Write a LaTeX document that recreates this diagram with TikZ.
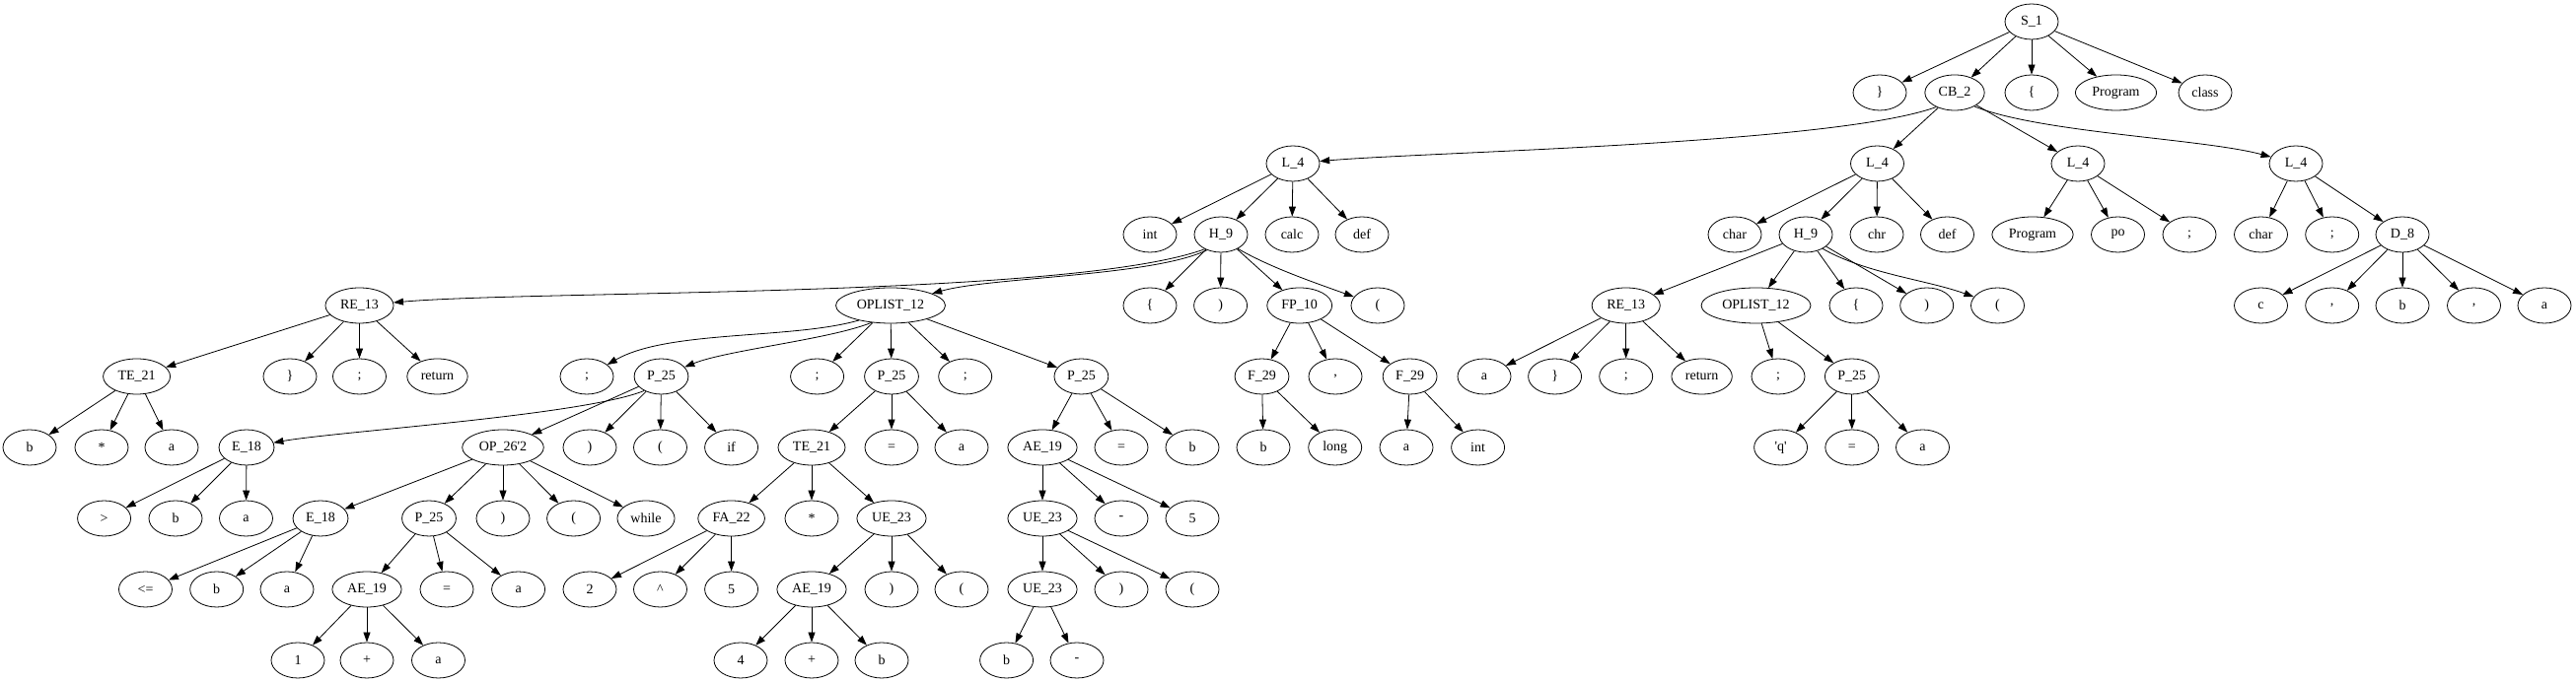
\documentclass[tikz,border=0pt]{standalone}
\usepackage{fontspec}
\newfontfamily\gvfont{Liberation Serif}
\usetikzlibrary{arrows.meta,shapes.geometric}
\begin{document}
\begin{tikzpicture}[x=1pt, y=1pt, font=\gvfont\fontsize{14}{16}\selectfont, >={Triangle[length=10pt,width=7pt]},
	nd/.style={draw, ellipse, line width=0.8pt, minimum width=54pt, minimum height=36pt, inner xsep=5pt, inner ysep=2pt},
	ed/.style={->, line width=0.8pt}]
	\useasboundingbox (0,0) rectangle (2612,692);
	% ranks, top to bottom
	\node[nd] (S1) at (2060,670) {S\_1};
	\foreach \n/\x/\t in {rbA/1906/\}, CB2/1982/CB\_2, lbA/2060/\{, progA/2145.5/Program, class/2236/class}
		\node[nd] (\n) at (\x,598) {\t};
	\foreach \n/\x in {La/1311, Lb/1903.5, Lc/2107, Ld/2328}
		\node[nd] (\n) at (\x,526) {L\_4};
	\foreach \n/\x/\t in {int1/1166/int, Ha/1238/H\_9, calc/1310/calc, def1/1381/def, char1/1759/char, Hb/1831/H\_9, chr/1903/chr, def2/1974.5/def,
		progB/2061/Program, po/2147.5/po, semA/2220/;, char2/2292.5/char, semB/2364.7/;, D8/2436/D\_8}
		\node[nd] (\n) at (\x,454) {\t};
	\foreach \n/\x/\t in {REa/364.5/RE\_13, OPLa/903/OPLIST\_12, lbB/1166/\{, rpA/1237.6/), FP10/1317.7/FP\_10, lpA/1397/(,
		REb/1648.7/RE\_13, OPLb/1780.5/OPLIST\_12, lbC/1882/\{, rpB/1953.7/), lpB/2025.5/(,
		c/2292.5/c, cmA/2364.7/{,}, bA/2436/b, cmB/2508.5/{,}, aA/2580/a}
		\node[nd] (\n) at (\x,382) {\t};
	\foreach \n/\x/\t in {TE21a/138.6/TE\_21, rbB/294/\}, semC/364.5/;, retA/443.5/return, semD/595/;, P25a/670.5/P\_25, semE/828.6/;,
		P25b/904/P\_25, semF/978.7/;, P25c/1096.4/P\_25, F29a/1279.5/F\_29, cmC/1354/{,}, F29b/1429.6/F\_29,
		aB/1505/a, rbC/1576.6/\}, semG/1648.7/;, retB/1725.6/return, semH/1803/;, P25d/1877.8/P\_25}
		\node[nd] (\n) at (\x,310) {\t};
	\foreach \n/\x/\t in {bB/30/b, star1/103/*, aC/174/a, E18a/250/E\_18, OP26/510/OP\_26'2, rpC/598/), lpC/669.5/(, ifA/741.6/if,
		TE21b/823/TE\_21, eqA/904/=, aD/975/a, AE19a/1057/AE\_19, eqB/1137/=, bC/1209/b, bD/1281/b, long/1353.7/long,
		aE/1426/a, int2/1498.6/int, q/1805.6/'q', eqC/1877.8/=, aF/1949.5/a}
		\node[nd] (\n) at (\x,238) {\t};
	\foreach \n/\x/\t in {gt/105.6/>, bE/178/b, aG/249.5/a, E18b/325/E\_18, P25e/435/P\_25, rpD/510/), lpD/581.6/(, while/655/while,
		FA22/741.6/FA\_22, star2/823/*, UE23a/904/UE\_23, UE23b/1057/UE\_23, minA/1137/-, five1/1209/5}
		\node[nd] (\n) at (\x,166) {\t};
	\foreach \n/\x/\t in {le/147.5/<=, bF/219.7/b, aH/291/a, AE19b/372/AE\_19, eqD/453/=, aI/525.6/a, two/598/2, hat/669.5/\textasciicircum,
		five2/741.6/5, AE19c/823/AE\_19, rpE/904/), lpE/975/(, UE23c/1057/UE\_23, rpF/1137/), lpF/1209/(}
		\node[nd] (\n) at (\x,94) {\t};
	\foreach \n/\x/\t in {one/302/1, plusA/372/+, aJ/444.5/a, four/751/4, plusB/823/+, bG/894/b, bH/1020.6/b, minB/1092/-}
		\node[nd] (\n) at (\x,22) {\t};
	% straight edges
	\foreach \p/\c in {S1/rbA, S1/CB2, S1/lbA, S1/progA, S1/class, CB2/Lb, CB2/Lc,
		La/int1, La/Ha, La/calc, La/def1, Lb/char1, Lb/Hb, Lb/chr, Lb/def2, Lc/progB, Lc/po, Lc/semA, Ld/char2, Ld/semB, Ld/D8,
		Ha/lbB, Ha/rpA, Ha/FP10, Hb/REb, Hb/OPLb, Hb/lbC, Hb/rpB, D8/c, D8/cmA, D8/bA, D8/cmB, D8/aA,
		REa/TE21a, REa/rbB, REa/semC, REa/retA, OPLa/semE, OPLa/P25b, OPLa/semF, OPLa/P25c, FP10/F29a, FP10/cmC, FP10/F29b,
		REb/aB, REb/rbC, REb/semG, REb/retB, OPLb/semH, OPLb/P25d,
		TE21a/bB, TE21a/star1, TE21a/aC, P25a/OP26, P25a/rpC, P25a/lpC, P25a/ifA, P25b/TE21b, P25b/eqA, P25b/aD,
		P25c/AE19a, P25c/eqB, P25c/bC, F29a/bD, F29a/long, F29b/aE, F29b/int2, P25d/q, P25d/eqC, P25d/aF,
		E18a/gt, E18a/bE, E18a/aG, OP26/E18b, OP26/P25e, OP26/rpD, OP26/lpD, OP26/while, TE21b/FA22, TE21b/star2, TE21b/UE23a,
		AE19a/UE23b, AE19a/minA, AE19a/five1, E18b/le, E18b/bF, E18b/aH, P25e/AE19b, P25e/eqD, P25e/aI, FA22/two, FA22/hat, FA22/five2,
		UE23a/AE19c, UE23a/rpE, UE23a/lpE, UE23b/UE23c, UE23b/rpF, UE23b/lpF, AE19b/one, AE19b/plusA, AE19b/aJ,
		AE19c/four, AE19c/plusB, AE19c/bG, UE23c/bH, UE23c/minB}
		\draw[ed] (\p) -- (\c);
	% long edges bend as in the layout
	\foreach \p/\a/\c/\o/\i/\l in {CB2/218/La/200/5/0.45, CB2/-35/Ld/-22/165/0.6, Ha/222/REa/200/5/0.45, Ha/228/OPLa/206/16/0.55,
		Ha/-40/lpA/-30/160/0.8, Hb/-40/lpB/-30/160/0.8, OPLa/205/semD/196/30/0.7, OPLa/222/P25a/202/22/0.6, P25a/220/E18a/202/10/0.45}
		\draw[ed] (\p.\a) to[out=\o, in=\i, looseness=\l] (\c);
\end{tikzpicture}
\end{document}
